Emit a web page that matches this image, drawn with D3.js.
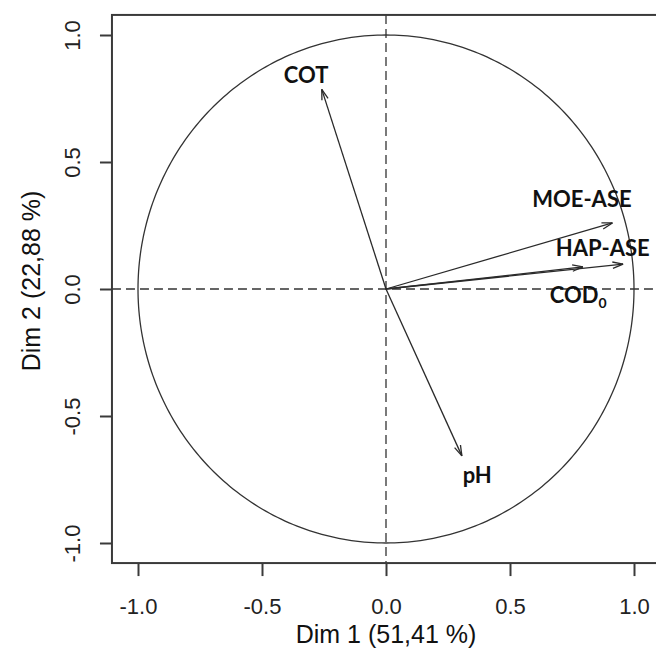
<!DOCTYPE html>
<html>
<head>
<meta charset="utf-8">
<script src="https://cdn.jsdelivr.net/npm/d3@7"></script>
<style>
html,body{margin:0;padding:0;background:#fff;}
svg{display:block;}
</style>
</head>
<body>
<script>
// ---- data ----
const variables = ["COT", "MOE-ASE", "HAP-ASE", "COD", "pH"];
const subscripts = ["", "", "", "0", ""];
const dim1 = [-0.259, 0.913, 0.956, 0.794, 0.306];
const dim2 = [0.786, 0.260, 0.098, 0.087, -0.657];
// label anchor (centre x, baseline y) in data units
const labelDim1 = [-0.322, 0.790, 0.874, 0.775, 0.368];
const labelDim2 = [0.811, 0.323, 0.130, -0.055, -0.764];
const xTicks = [-1.0, -0.5, 0.0, 0.5, 1.0];
const yTicks = [-1.0, -0.5, 0.0, 0.5, 1.0];
const xTitle = "Dim 1 (51,41 %)";
const yTitle = "Dim 2 (22,88 %)";

const W = 656, H = 657;
const svg = d3.select("body").append("svg").attr("width", W).attr("height", H);

const x = d3.scaleLinear().domain([-1, 1]).range([138, 634]);
const y = d3.scaleLinear().domain([-1, 1]).range([543, 35]);

// plot box
const box = {l: x(-1.105), r: x(1.105), t: y(1.079), b: y(-1.079)};
const axisColor = "#3a3a3a";
const fmt = d => d3.format(".1f")(d).replace("\u2212", "-");

// dashed reference lines
svg.append("line").attr("x1", box.l).attr("x2", box.r).attr("y1", y(0)).attr("y2", y(0))
  .attr("stroke", "#333").attr("stroke-width", 1.3).attr("stroke-dasharray", "9,5");
svg.append("line").attr("x1", x(0)).attr("x2", x(0)).attr("y1", box.t).attr("y2", box.b)
  .attr("stroke", "#333").attr("stroke-width", 1.3).attr("stroke-dasharray", "9,5");

// circle of correlations
const angles = d3.range(0, 361, 1).map(d => d * Math.PI / 180);
const circ = d3.line().x(a => x(Math.cos(a))).y(a => y(Math.sin(a)));
svg.append("path").attr("d", circ(angles)).attr("fill", "none")
  .attr("stroke", "#333").attr("stroke-width", 1.3);

// box
svg.append("rect").attr("x", box.l).attr("y", box.t)
  .attr("width", box.r - box.l).attr("height", box.b - box.t)
  .attr("fill", "none").attr("stroke", axisColor).attr("stroke-width", 2);

// axes
const xAxis = d3.axisBottom(x).tickValues(xTicks).tickFormat(fmt).tickSize(13).tickPadding(7);
const gx = svg.append("g").attr("transform", `translate(0,${box.b})`).call(xAxis);
gx.select(".domain").remove();
gx.selectAll(".tick line").attr("stroke", axisColor).attr("stroke-width", 2);
gx.selectAll(".tick text").attr("font-family", "Liberation Sans, Arial, sans-serif")
  .attr("font-size", 22).attr("fill", "#222").attr("dy", null).attr("y", 51)
  .attr("dominant-baseline", "auto");

const yAxis = d3.axisLeft(y).tickValues(yTicks).tickFormat(fmt).tickSize(12);
const gy = svg.append("g").attr("transform", `translate(${box.l},0)`).call(yAxis);
gy.select(".domain").remove();
gy.selectAll(".tick line").attr("stroke", axisColor).attr("stroke-width", 2);
gy.selectAll(".tick text").attr("font-family", "Liberation Sans, Arial, sans-serif")
  .attr("font-size", 22).attr("fill", "#222")
  .attr("x", null).attr("dy", null)
  .attr("text-anchor", "middle")
  .attr("transform", "translate(-32,0) rotate(-90)");

// axis titles
svg.append("text").attr("x", x(0)).attr("y", 643).attr("text-anchor", "middle")
  .attr("font-family", "Liberation Sans, Arial, sans-serif").attr("font-size", 25)
  .attr("fill", "#111").text(xTitle);
svg.append("text").attr("transform", `translate(40,${y(0) - 8}) rotate(-90)`)
  .attr("text-anchor", "middle")
  .attr("font-family", "Liberation Sans, Arial, sans-serif").attr("font-size", 25)
  .attr("fill", "#111").text(yTitle);

// arrows
const headLen = 11, headAng = 17 * Math.PI / 180;
const ag = svg.append("g").attr("stroke", "#2a2a2a").attr("stroke-width", 1.3).attr("fill", "none");
variables.forEach((v, i) => {
  const x0 = x(0), y0 = y(0), x1 = x(dim1[i]), y1 = y(dim2[i]);
  ag.append("line").attr("x1", x0).attr("y1", y0).attr("x2", x1).attr("y2", y1);
  const th = Math.atan2(y1 - y0, x1 - x0);
  [1, -1].forEach(s => {
    ag.append("line").attr("x1", x1).attr("y1", y1)
      .attr("x2", x1 - headLen * Math.cos(th + s * headAng))
      .attr("y2", y1 - headLen * Math.sin(th + s * headAng));
  });
});

// labels
variables.forEach((v, i) => {
  const t = svg.append("text").attr("x", x(labelDim1[i])).attr("y", y(labelDim2[i]))
    .attr("text-anchor", "middle")
    .attr("font-family", "Lato, 'Open Sans', sans-serif").attr("font-weight", "bold")
    .attr("font-size", 22).attr("fill", "#111");
  t.append("tspan").text(v);
  if (subscripts[i]) {
    t.append("tspan").attr("font-size", 14).attr("dy", 5).text(subscripts[i]);
  }
});
</script>
</body>
</html>
